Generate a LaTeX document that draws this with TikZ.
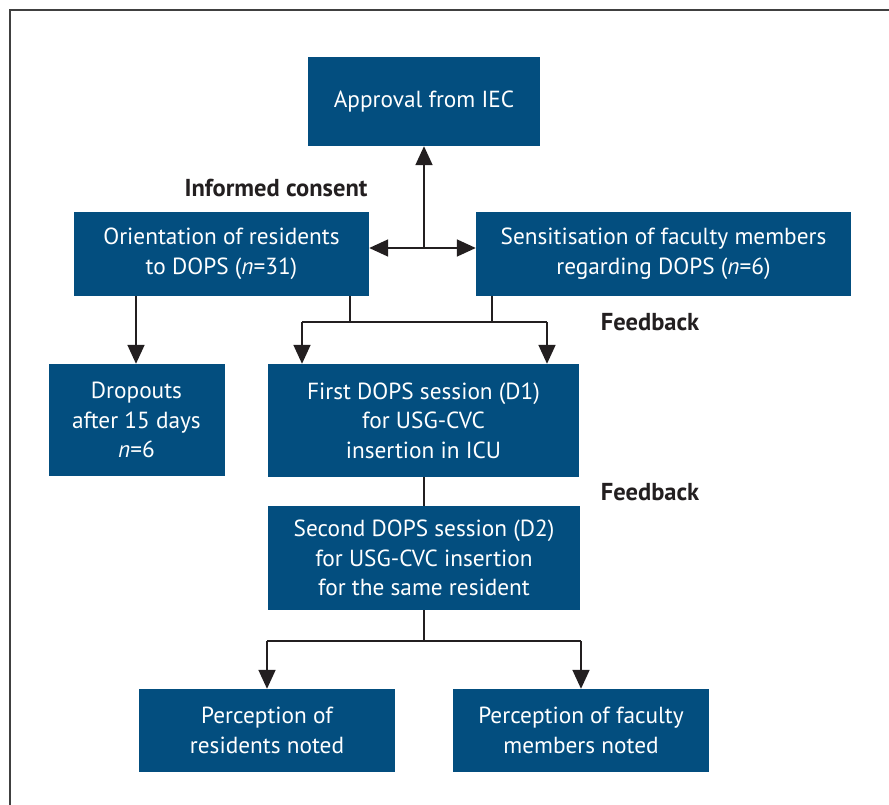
\documentclass[tikz,border=0pt]{standalone}
\usepackage{fontspec}
\setmainfont{PT Sans}
\usetikzlibrary{arrows.meta}
\definecolor{boxblue}{RGB}{3,78,127}
\definecolor{linegray}{RGB}{35,31,32}
\begin{document}
\begin{tikzpicture}[x=1pt,y=-1pt,
  box/.style={fill=boxblue,text=white,inner sep=0pt,align=center,
    font=\fontsize{23.3}{29.5}\selectfont},
  lbl/.style={font=\fontsize{24.5}{28}\selectfont\bfseries,text=linegray,inner sep=0pt},
  conn/.style={draw=linegray,line width=1.8pt},
  arr/.style={conn,-{Triangle[width=17pt,length=19pt]}},
  darr/.style={conn,{Triangle[width=17pt,length=19pt]}-{Triangle[width=17pt,length=19pt]}}]
\useasboundingbox (0,0) rectangle (889,805);
\fill[white] (0,0) rectangle (889,805);
\draw[line width=1.8pt,draw=black!75] (889,10) -- (10,10) -- (10,805);
% boxes
\node[box,minimum width=232pt,minimum height=89pt] (iec) at (424,101.5) {Approval from IEC};
\node[box,minimum width=295pt,minimum height=84pt] (orient) at (221.5,254) {Orientation of residents\\to DOPS (\textit{n}=31)};
\node[box,minimum width=375pt,minimum height=84pt] (sens) at (663.5,254) {Sensitisation of faculty members\\regarding DOPS (\textit{n}=6)};
\node[box,minimum width=176pt,minimum height=112pt] (drop) at (136.5,420) {Dropouts\\after 15 days\\\textit{n}=6};
\node[box,minimum width=311pt,minimum height=113pt] (d1) at (423.5,420.5) {First DOPS session (D1)\\for USG-CVC\\insertion in ICU};
\node[box,minimum width=312pt,minimum height=104pt] (d2) at (424,558) {Second DOPS session (D2)\\for USG-CVC insertion\\for the same resident};
\node[box,minimum width=256pt,minimum height=83pt] (pres) at (267,730.5) {Perception of\\residents noted};
\node[box,minimum width=256pt,minimum height=83pt] (pfac) at (581,730.5) {Perception of faculty\\members noted};
% labels
\node[lbl] (ic) at (276,188) {Informed consent};
\node[lbl] (fb1) at (650,322) {Feedback};
\node[lbl] (fb2) at (650,492) {Feedback};
% coordinates
\coordinate (jc) at (424,248);
\coordinate (o1) at (350,322);
\coordinate (s1) at (492,322);
\coordinate (b1) at (424,641);
\coordinate (dtop) at (136,296);
\coordinate (dmid) at (424,477);
% connectors
\draw[darr] (orient.east |- jc) -- (sens.west |- jc);
\draw[arr] (jc) -- (iec.south);
\draw[arr] (dtop) -- (dtop |- drop.north);
\draw[conn] (o1 |- orient.south) -- (o1);
\draw[conn] (s1 |- sens.south) -- (s1);
\draw[arr] (547,322) -- (547,322 |- d1.north);
\draw[arr] (302,322) -- (302,322 |- d1.north);
\draw[conn] (302,322) -- (547,322);
\draw[conn] (dmid) -- (dmid |- d2.north);
\draw[conn] (d2.south) -- (b1);
\draw[conn] (pres.north |- b1) -- (pfac.north |- b1);
\draw[arr] (pres.north |- b1) -- (pres.north);
\draw[arr] (pfac.north |- b1) -- (pfac.north);
\end{tikzpicture}
\end{document}
